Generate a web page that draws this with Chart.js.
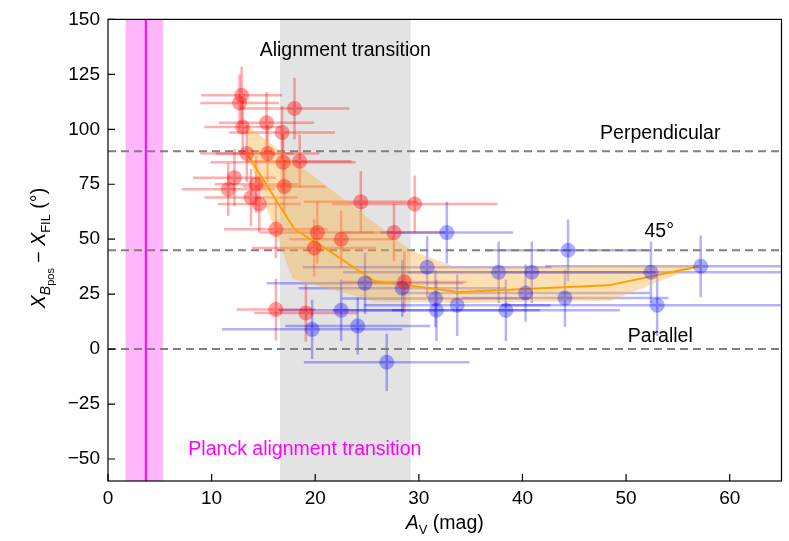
<!DOCTYPE html>
<html>
<head>
<meta charset="utf-8">
<script src="https://cdn.jsdelivr.net/npm/chart.js@4.4.1/dist/chart.umd.min.js"></script>
<style>
  html, body { margin: 0; padding: 0; background: #fff; }
</style>
</head>
<body>
<canvas id="chart" width="789" height="541"></canvas>
<script>
// red points (low extinction)
const redX    = [12.9, 12.7, 18.0, 13.0, 15.3, 16.8, 13.4, 15.4, 16.9, 18.5, 12.2, 11.6, 14.3, 17.0, 13.8, 14.6, 24.4, 29.6, 16.2, 20.2, 22.5, 19.9, 27.6, 28.6, 16.2, 19.1];
const redY    = [115.5, 112, 109.5, 101, 103, 98.6, 89, 89, 85, 85.5, 78, 72.7, 75, 74, 69, 66, 67, 66, 54.5, 53, 50, 46, 53, 30.5, 18, 16.4];
const redXErr = [3.9, 3.8, 5.3, 3.7, 4.6, 5.1, 4.5, 5.0, 7.0, 5.0, 4.0, 4.5, 4.0, 4.0, 4.5, 4.0, 5.5, 8.0, 5.0, 5.5, 5.0, 6.0, 5.0, 6.0, 3.8, 5.0];
const redYErr = [13, 13, 14, 12, 14, 12, 13, 13, 13, 12, 13, 12, 13, 12, 13, 13, 14, 13, 13, 14, 13, 13, 13, 14, 14, 13];

// blue points (high extinction)
const blueX    = [19.7, 22.5, 24.1, 24.8, 26.9, 28.4, 30.8, 31.6, 31.7, 32.7, 33.7, 37.7, 38.4, 40.3, 40.9, 44.1, 44.4, 52.4, 53.0, 57.2];
const blueY    = [9, 17.7, 10.5, 30, -6, 27.7, 37.3, 23, 17.7, 53, 20, 35, 17.7, 25.5, 35, 23.2, 45, 35, 20, 37.7];
const blueXErr = [8.7, 6, 7, 9.5, 8, 10, 12, 9, 10, 6.4, 9, 15, 11, 12, 12, 10, 8, 14, 15, 15];
const blueYErr = [13.5, 14, 13, 14, 13, 13, 14, 13, 14, 14, 14, 14, 14, 13, 14, 13, 14, 14, 14, 14];

// running median and its spread
const medX = [13.4, 18.0, 20.6, 25.7, 29.0, 33.8, 48.3, 57.1];
const medY = [89, 54.5, 47, 31, 29, 26, 29, 37.7];
const bandX = [13.4, 29.2, 33.5, 57.1, 48.5, 33.8, 25.9, 17.8, 13.4, 13.4];
const bandY = [102, 45, 37.5, 38, 22, 21, 21.5, 32, 89, 102];

// reference levels and regions
const refLevels = [90, 45, 0];
const greyBand = [16.6, 29.2];
const planckBand = [1.7, 5.3];
const planckLine = 3.65;

const xTicks = [0, 10, 20, 30, 40, 50, 60];
const yTicks = [-50, -25, 0, 25, 50, 75, 100, 125, 150];

const FONT = '"Liberation Sans", Arial, sans-serif';

function pts(xs, ys) {
    return xs.map((v, i) => ({ x: v, y: ys[i] }));
}

const overlay = {
    id: 'overlay',
    beforeDatasetsDraw(chart) {
        const { ctx, chartArea: a, scales: { x, y } } = chart;
        ctx.save();
        ctx.beginPath();
        ctx.rect(a.left, a.top, a.right - a.left, a.bottom - a.top);
        ctx.clip();

        const gx0 = x.getPixelForValue(greyBand[0]), gx1 = x.getPixelForValue(greyBand[1]);
        ctx.fillStyle = '#e3e3e3';
        ctx.fillRect(gx0, a.top, gx1 - gx0, a.bottom - a.top);

        const px0 = x.getPixelForValue(planckBand[0]), px1 = x.getPixelForValue(planckBand[1]);
        ctx.fillStyle = '#ffb6fb';
        ctx.fillRect(px0, a.top, px1 - px0, a.bottom - a.top);
        ctx.strokeStyle = '#ff00ff';
        ctx.lineWidth = 2;
        ctx.beginPath();
        ctx.moveTo(x.getPixelForValue(planckLine), a.top);
        ctx.lineTo(x.getPixelForValue(planckLine), a.bottom);
        ctx.stroke();

        function bars(xs, ys, xe, ye, color) {
            ctx.strokeStyle = color;
            ctx.lineWidth = 2.5;
            for (let i = 0; i < xs.length; i++) {
                const cx = x.getPixelForValue(xs[i]), cy = y.getPixelForValue(ys[i]);
                ctx.beginPath();
                ctx.moveTo(x.getPixelForValue(xs[i] - xe[i]), cy);
                ctx.lineTo(x.getPixelForValue(xs[i] + xe[i]), cy);
                ctx.moveTo(cx, y.getPixelForValue(ys[i] - ye[i]));
                ctx.lineTo(cx, y.getPixelForValue(ys[i] + ye[i]));
                ctx.stroke();
            }
        }
        bars(redX, redY, redXErr, redYErr, 'rgba(255,0,0,0.32)');
        bars(blueX, blueY, blueXErr, blueYErr, 'rgba(0,0,255,0.3)');
        ctx.restore();
    },
    afterDraw(chart) {
        const { ctx, chartArea: a, scales: { x, y } } = chart;
        ctx.save();
        // frame and inward ticks
        ctx.strokeStyle = '#000';
        ctx.lineWidth = 1.2;
        ctx.strokeRect(a.left, a.top, a.right - a.left, a.bottom - a.top);
        ctx.beginPath();
        xTicks.forEach(v => {
            const p = x.getPixelForValue(v);
            ctx.moveTo(p, a.bottom);
            ctx.lineTo(p, a.bottom - 7);
        });
        yTicks.forEach(v => {
            const p = y.getPixelForValue(v);
            ctx.moveTo(a.left, p);
            ctx.lineTo(a.left + 7, p);
        });
        ctx.stroke();

        // annotations
        ctx.fillStyle = '#000';
        ctx.font = '19.5px ' + FONT;
        ctx.textAlign = 'center';
        ctx.textBaseline = 'middle';
        ctx.fillText('Alignment transition', x.getPixelForValue(22.9), y.getPixelForValue(136));
        ctx.fillText('Perpendicular', x.getPixelForValue(53.3), y.getPixelForValue(98));
        ctx.fillText('45°', x.getPixelForValue(53.2), y.getPixelForValue(53.6));
        ctx.fillText('Parallel', x.getPixelForValue(53.3), y.getPixelForValue(5.5));
        ctx.fillStyle = '#ff00ff';
        ctx.fillText('Planck alignment transition', x.getPixelForValue(19.0), y.getPixelForValue(-45.5));

        // x title: A_V (mag)
        ctx.fillStyle = '#000';
        ctx.textAlign = 'left';
        ctx.textBaseline = 'alphabetic';
        const xc = (a.left + a.right) / 2, xb = 529;
        ctx.font = 'italic 19.5px ' + FONT;
        const wA = ctx.measureText('A').width;
        ctx.font = '13px ' + FONT;
        const wV = ctx.measureText('V').width;
        ctx.font = '19.5px ' + FONT;
        const wM = ctx.measureText(' (mag)').width;
        let sx = xc - (wA + wV + wM) / 2;
        ctx.font = 'italic 19.5px ' + FONT;
        ctx.fillText('A', sx, xb);
        ctx.font = '13px ' + FONT;
        ctx.fillText('V', sx + wA, xb + 5);
        ctx.font = '19.5px ' + FONT;
        ctx.fillText(' (mag)', sx + wA + wV, xb);

        // y title: X_Bpos - X_FIL (°)
        ctx.translate(45, 248);
        ctx.rotate(-Math.PI / 2);
        const parts = [
            ['italic 19.5px ', 'X', 0],
            ['italic 14px ', 'B', 5],
            ['11px ', 'pos', 9],
            ['19.5px ', ' \u2212 ', 0],
            ['italic 19.5px ', 'X', 0],
            ['13px ', 'FIL', 5],
            ['19.5px ', ' (°)', 0]
        ];
        let total = 0;
        parts.forEach(p => { ctx.font = p[0] + FONT; total += ctx.measureText(p[1]).width; });
        let tx = -total / 2;
        parts.forEach(p => {
            ctx.font = p[0] + FONT;
            ctx.fillText(p[1], tx, 0 + p[2]);
            tx += ctx.measureText(p[1]).width;
        });
        ctx.restore();
    }
};

const refDatasets = refLevels.map(v => ({
    type: 'line',
    data: [{ x: 0, y: v }, { x: 65, y: v }],
    borderColor: '#808080',
    borderWidth: 2,
    borderDash: [8, 5],
    pointRadius: 0,
    order: 4
}));

new Chart(document.getElementById('chart'), {
    type: 'scatter',
    data: {
        datasets: [
            {
                data: pts(redX, redY),
                backgroundColor: 'rgba(255,0,0,0.38)',
                borderWidth: 0,
                pointRadius: 7.5,
                order: 0
            },
            {
                data: pts(blueX, blueY),
                backgroundColor: 'rgba(0,0,255,0.32)',
                borderWidth: 0,
                pointRadius: 7.5,
                order: 0
            },
            {
                type: 'line',
                data: pts(medX, medY),
                borderColor: '#ffa000',
                borderWidth: 2,
                pointRadius: 0,
                tension: 0,
                order: 1
            },
            {
                type: 'line',
                data: pts(bandX, bandY),
                borderWidth: 0,
                backgroundColor: 'rgba(250,178,60,0.4)',
                fill: 'shape',
                pointRadius: 0,
                tension: 0,
                order: 2
            },
            ...refDatasets
        ]
    },
    options: {
        responsive: false,
        animation: false,
        devicePixelRatio: 1,
        layout: { padding: { left: 46, right: 5, top: 19, bottom: 20 } },
        plugins: { legend: { display: false }, tooltip: { enabled: false } },
        scales: {
            x: {
                type: 'linear',
                min: 0,
                max: 65,
                afterBuildTicks: s => { s.ticks = xTicks.map(v => ({ value: v })); },
                afterFit: s => { s.height = 40; },
                grid: { display: false, drawTicks: false },
                border: { display: false },
                ticks: { color: '#000', font: { size: 19, family: FONT }, padding: 6, maxRotation: 0 }
            },
            y: {
                type: 'linear',
                min: -60,
                max: 150,
                afterBuildTicks: s => { s.ticks = yTicks.map(v => ({ value: v })); },
                afterFit: s => { s.width = 62; },
                grid: { display: false, drawTicks: false },
                border: { display: false },
                ticks: {
                    color: '#000',
                    font: { size: 19, family: FONT },
                    padding: 8,
                    callback: v => String(v).replace('-', '\u2212')
                }
            }
        }
    },
    plugins: [overlay]
});
</script>
</body>
</html>
